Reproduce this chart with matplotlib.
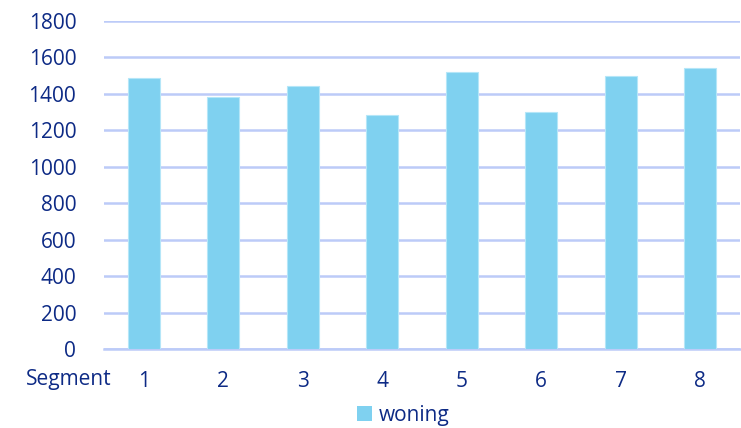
import matplotlib.pyplot as plt
from matplotlib.patches import Patch

# woningen per segment
segmenten = ["1", "2", "3", "4", "5", "6", "7", "8"]
woning = [1489, 1383, 1445, 1286, 1520, 1299, 1497, 1541]
y_ticks = [0, 200, 400, 600, 800, 1000, 1200, 1400, 1600, 1800]

tekst_kleur = "#0d2a85"
balk_kleur = "#7fd1f0"
grid_kleur = "#bccbf8"
fs = 15

plt.rcParams['font.family'] = ['Open Sans', 'DejaVu Sans']

fig = plt.figure(figsize=(7.41, 4.28), dpi=100)
ax = fig.add_axes([104 / 741, 1 - 349 / 428, 636 / 741, 328 / 428])

x = range(len(segmenten))
ax.bar(x, woning, width=0.4, color=balk_kleur, edgecolor="#b5e6f8", linewidth=0.8, zorder=3)

ax.set_xlim(-0.5, len(segmenten) - 0.5)
ax.set_ylim(0, 1800)
ax.set_yticks(y_ticks)
ax.set_yticklabels([str(v) for v in y_ticks])
ax.set_xticks(list(x))
ax.set_xticklabels(segmenten)

ax.tick_params(axis="both", length=0, labelsize=fs, colors=tekst_kleur)
ax.tick_params(axis="y", pad=20)
ax.tick_params(axis="x", pad=16)

ax.grid(axis="y", color=grid_kleur, linewidth=1.8, zorder=0)
for kant in ["top", "right", "left"]:
    ax.spines[kant].set_visible(False)
ax.spines["bottom"].set_color(grid_kleur)
ax.spines["bottom"].set_linewidth(1.8)

# categorie-titel links van de tick labels
fig.text(112 / 741, 1 - 379 / 428, "Segment", fontsize=fs, color=tekst_kleur, va="center", ha="right")

# legenda onderaan
fig.legend(handles=[Patch(facecolor=balk_kleur, label="woning")], loc="center",
           bbox_to_anchor=(403 / 741, 1 - 415 / 428), frameon=False, fontsize=fs,
           labelcolor=tekst_kleur, handlelength=0.75, handleheight=0.75, handletextpad=0.3)

plt.savefig("out.png", dpi=100)
